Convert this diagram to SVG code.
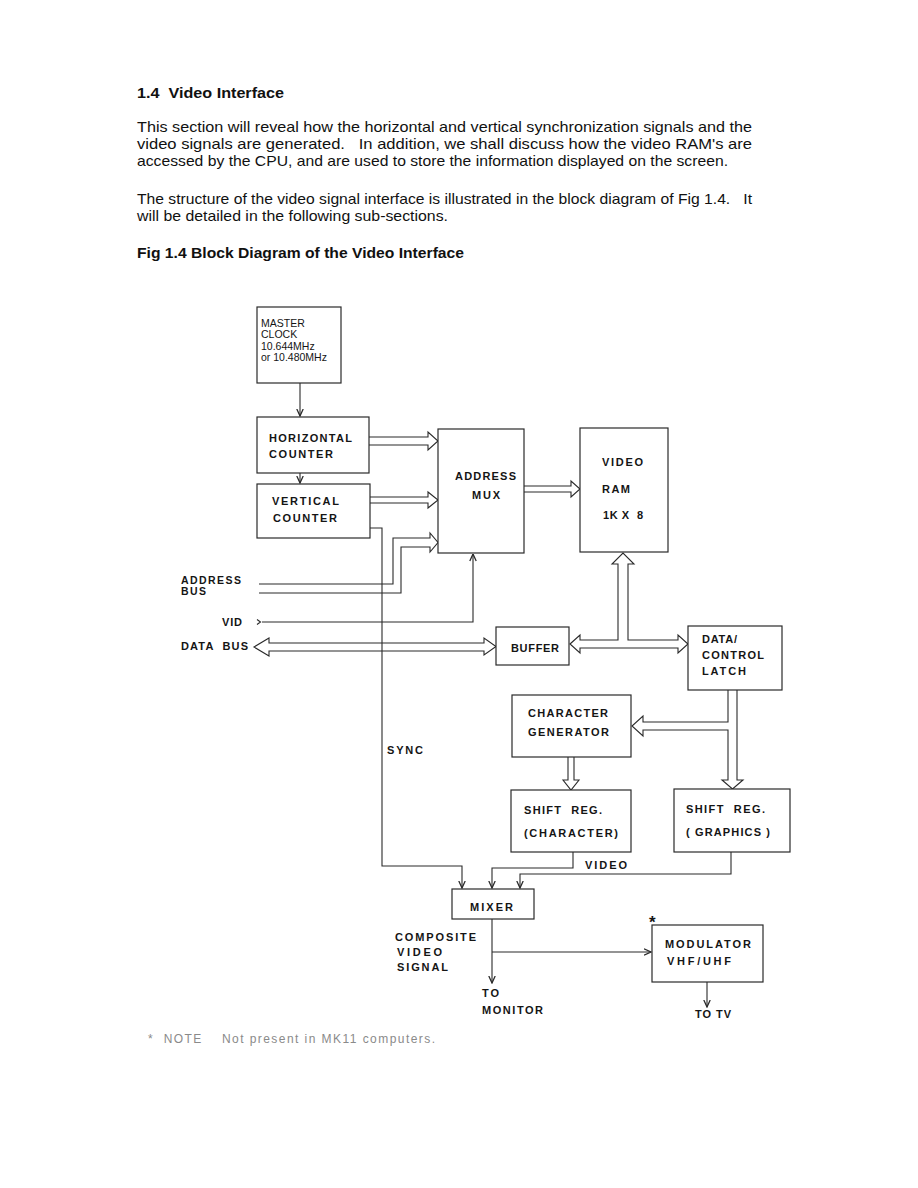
<svg xmlns="http://www.w3.org/2000/svg" width="918" height="1188" viewBox="0 0 918 1188">
<defs>
<style>
.body{font-family:"Liberation Sans",Arial,sans-serif;font-size:15px;fill:#111;white-space:pre}
.hd{font-family:"Liberation Sans",Arial,sans-serif;font-size:15px;font-weight:bold;fill:#111;white-space:pre}
.lb{font-family:"Liberation Sans",Arial,sans-serif;font-size:11px;font-weight:bold;fill:#151515;white-space:pre}
.lr{font-family:"Liberation Sans",Arial,sans-serif;font-size:10.5px;fill:#151515}
.note{font-family:"Liberation Sans",Arial,sans-serif;font-size:12px;fill:#8a8a8a;white-space:pre}
.box{fill:#fff;stroke:#2a2a2a;stroke-width:1.2}
.ln{fill:none;stroke:#2a2a2a;stroke-width:1.1}
.bus{fill:#fff;stroke:#2a2a2a;stroke-width:1.1;stroke-linejoin:miter}
.busn{fill:none;stroke:#2a2a2a;stroke-width:1.1}
</style>
<marker id="ah" viewBox="0 0 8 8" refX="7.5" refY="4" markerWidth="8" markerHeight="8" markerUnits="userSpaceOnUse" orient="auto">
<path d="M0.5,0.8 L7.5,4 L0.5,7.2" fill="none" stroke="#2a2a2a" stroke-width="1.3"/>
</marker>
</defs>
<rect width="918" height="1188" fill="#fff"/>

<g id="page-text" xml:space="preserve">
<text class="hd" x="137" y="98" textLength="147" lengthAdjust="spacingAndGlyphs">1.4  Video Interface</text>
<text class="body" x="137" y="132" textLength="615" lengthAdjust="spacingAndGlyphs">This section will reveal how the horizontal and vertical synchronization signals and the</text>
<text class="body" x="137" y="149" textLength="615" lengthAdjust="spacingAndGlyphs">video signals are generated.   In addition, we shall discuss how the video RAM's are</text>
<text class="body" x="137" y="166" textLength="591" lengthAdjust="spacingAndGlyphs">accessed by the CPU, and are used to store the information displayed on the screen.</text>
<text class="body" x="137" y="204" textLength="615" lengthAdjust="spacingAndGlyphs">The structure of the video signal interface is illustrated in the block diagram of Fig 1.4.   It</text>
<text class="body" x="137" y="221" textLength="311" lengthAdjust="spacingAndGlyphs">will be detailed in the following sub-sections.</text>
<text class="hd" x="137" y="258" textLength="327" lengthAdjust="spacingAndGlyphs">Fig 1.4 Block Diagram of the Video Interface</text>
</g>

<g id="connectors">
<path class="ln" d="M300,383 V416" marker-end="url(#ah)"/>
<path class="ln" d="M300,473 V483" marker-end="url(#ah)"/>
<path class="busn" d="M369,437 H428 V432 L438,441 L428,450 V445 H369"/>
<path class="busn" d="M370,497 H428 V492 L438,500 L428,508 V503 H370"/>
<path class="busn" d="M524,486 H571 V481 L580,489 L571,497 V492 H524"/>
<path class="busn" d="M259,584 H393 V538 H430 V533 L438,542.5 L430,552 V547 H401 V593 H259"/>
<path class="ln" d="M257,619.5 L260.5,622 L257,624.5"/>
<path class="ln" d="M262,622 H473 V554" marker-end="url(#ah)"/>
<path class="bus" d="M254,647 L269,638 V643 H484 V638 L496,646.5 L484,655 V651 H269 V656 Z"/>
<path class="bus" d="M570,644 L580,635 V640 H618 V564 H612 L623,553 L634,564 H628 V640 H678 V635 L688,644 L678,653 V648 H580 V653 Z"/>
<path class="bus" d="M728,690 V722 H643 V716 L632,726 L643,736 V730 H728 V780 H722 L732.5,789 L743,780 H737 V690"/>
<path class="bus" d="M568,757 V780 H563 L571,790 L579,780 H574 V757"/>
<path class="ln" d="M370,528 H382 V866 H462 V888" marker-end="url(#ah)"/>
<path class="ln" d="M573,852 V868 H492 V888" marker-end="url(#ah)"/>
<path class="ln" d="M731,852 V874 H520 V888" marker-end="url(#ah)"/>
<path class="ln" d="M492,919 V983" marker-end="url(#ah)"/>
<path class="ln" d="M492,952 H651" marker-end="url(#ah)"/>
<path class="ln" d="M707,982 V1007" marker-end="url(#ah)"/>
</g>

<g id="master-clock">
<rect class="box" x="257" y="307" width="84" height="76"/>
<text class="lr" x="261" y="327">MASTER</text>
<text class="lr" x="261" y="338">CLOCK</text>
<text class="lr" x="261" y="350">10.644MHz</text>
<text class="lr" x="261" y="361">or 10.480MHz</text>
</g>

<g id="horizontal-counter">
<rect class="box" x="257" y="417" width="112" height="56"/>
<text class="lb" x="269" y="442" textLength="83" lengthAdjust="spacing">HORIZONTAL</text>
<text class="lb" x="269" y="458" textLength="64" lengthAdjust="spacing">COUNTER</text>
</g>

<g id="vertical-counter">
<rect class="box" x="257" y="484" width="113" height="54"/>
<text class="lb" x="272" y="505" textLength="67" lengthAdjust="spacing">VERTICAL</text>
<text class="lb" x="273" y="522" textLength="64" lengthAdjust="spacing">COUNTER</text>
</g>

<g id="address-mux">
<rect class="box" x="438" y="429" width="86" height="124"/>
<text class="lb" x="455" y="480" textLength="61" lengthAdjust="spacing">ADDRESS</text>
<text class="lb" x="472" y="499" textLength="28" lengthAdjust="spacing">MUX</text>
</g>

<g id="video-ram">
<rect class="box" x="580" y="428" width="88" height="124"/>
<text class="lb" x="602" y="466" textLength="41" lengthAdjust="spacing">VIDEO</text>
<text class="lb" x="602" y="493" textLength="28" lengthAdjust="spacing">RAM</text>
<text class="lb" x="603" y="519" textLength="40" lengthAdjust="spacing" xml:space="preserve">1K X  8</text>
</g>

<g id="buffer">
<rect class="box" x="496" y="627" width="73" height="38"/>
<text class="lb" x="511" y="652" textLength="48" lengthAdjust="spacing">BUFFER</text>
</g>

<g id="data-control-latch">
<rect class="box" x="688" y="626" width="94" height="64"/>
<text class="lb" x="702" y="643" textLength="35" lengthAdjust="spacing">DATA/</text>
<text class="lb" x="702" y="659" textLength="62" lengthAdjust="spacing">CONTROL</text>
<text class="lb" x="702" y="675" textLength="44" lengthAdjust="spacing">LATCH</text>
</g>

<g id="character-generator">
<rect class="box" x="512" y="695" width="119" height="62"/>
<text class="lb" x="528" y="717" textLength="80" lengthAdjust="spacing">CHARACTER</text>
<text class="lb" x="528" y="736" textLength="81" lengthAdjust="spacing">GENERATOR</text>
</g>

<g id="shift-reg-character">
<rect class="box" x="511" y="790" width="120" height="62"/>
<text class="lb" x="524" y="814" textLength="78" lengthAdjust="spacing" xml:space="preserve">SHIFT  REG.</text>
<text class="lb" x="524" y="837" textLength="94" lengthAdjust="spacing">(CHARACTER)</text>
</g>

<g id="shift-reg-graphics">
<rect class="box" x="674" y="789" width="116" height="63"/>
<text class="lb" x="686" y="813" textLength="79" lengthAdjust="spacing" xml:space="preserve">SHIFT  REG.</text>
<text class="lb" x="686" y="836" textLength="84" lengthAdjust="spacing">( GRAPHICS )</text>
</g>

<g id="mixer">
<rect class="box" x="452" y="889" width="82" height="30"/>
<text class="lb" x="470" y="911" textLength="43" lengthAdjust="spacing">MIXER</text>
</g>

<g id="modulator">
<rect class="box" x="652" y="925" width="111" height="57"/>
<text class="lb" x="665" y="948" textLength="86" lengthAdjust="spacing">MODULATOR</text>
<text class="lb" x="667" y="965" textLength="64" lengthAdjust="spacing">VHF/UHF</text>
<text class="lb" x="649" y="928" style="font-size:17px">*</text>
</g>

<g id="labels">
<text class="lb" x="181" y="584" textLength="60" lengthAdjust="spacing" style="font-size:10.5px">ADDRESS</text>
<text class="lb" x="181" y="595" textLength="25" lengthAdjust="spacing" style="font-size:10.5px">BUS</text>
<text class="lb" x="222" y="626" textLength="20" lengthAdjust="spacing">VID</text>
<text class="lb" x="181" y="650" textLength="67" lengthAdjust="spacing" xml:space="preserve">DATA  BUS</text>
<text class="lb" x="387" y="754" textLength="36" lengthAdjust="spacing">SYNC</text>
<text class="lb" x="585" y="869" textLength="42" lengthAdjust="spacing">VIDEO</text>
<text class="lb" x="395" y="941" textLength="81" lengthAdjust="spacing">COMPOSITE</text>
<text class="lb" x="397" y="956" textLength="45" lengthAdjust="spacing">VIDEO</text>
<text class="lb" x="397" y="971" textLength="51" lengthAdjust="spacing">SIGNAL</text>
<text class="lb" x="482" y="997" textLength="17" lengthAdjust="spacing">TO</text>
<text class="lb" x="482" y="1014" textLength="61" lengthAdjust="spacing">MONITOR</text>
<text class="lb" x="695" y="1018" textLength="36" lengthAdjust="spacing">TO TV</text>
</g>

<g id="footnote" xml:space="preserve">
<text class="note" x="148" y="1043" textLength="287" lengthAdjust="spacing">*  NOTE    Not present in MK11 computers.</text>
</g>
</svg>
